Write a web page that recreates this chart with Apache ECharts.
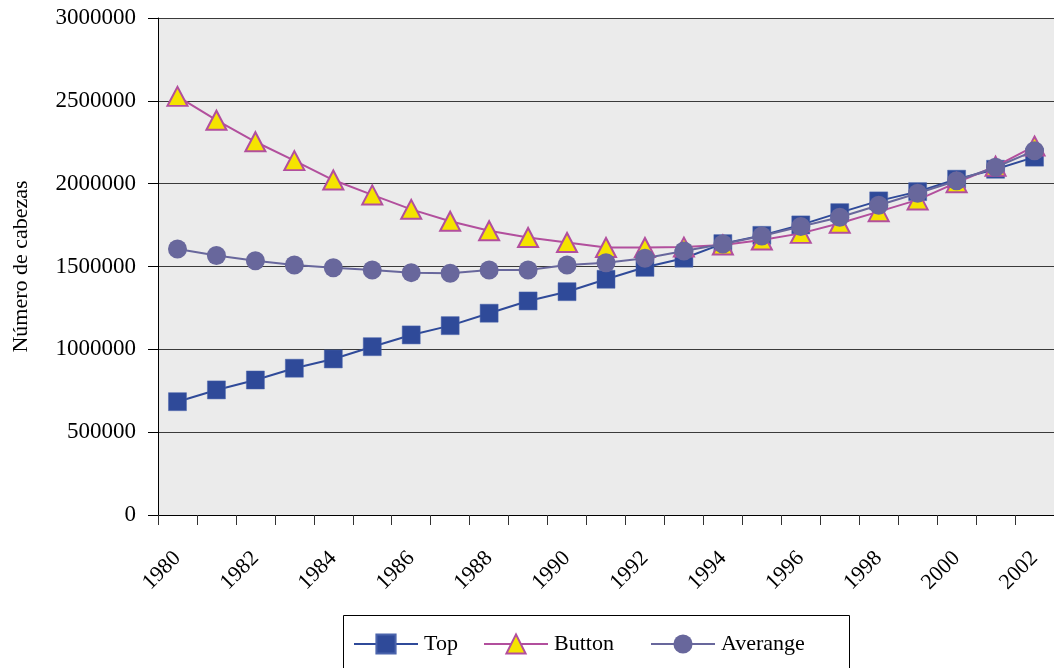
<!DOCTYPE html>
<html>
<head>
<meta charset="utf-8">
<script src="https://cdn.jsdelivr.net/npm/echarts@6/dist/echarts.min.js"></script>
<style>
  html, body { margin: 0; padding: 0; background: #ffffff; }
  #chart { width: 1054px; height: 668px; }
</style>
</head>
<body>
<div id="chart"></div>
<script>
// Years on the category axis
const years = ['1980', '1981', '1982', '1983', '1984', '1985', '1986', '1987', '1988', '1989', '1990',
  '1991', '1992', '1993', '1994', '1995', '1996', '1997', '1998', '1999', '2000', '2001', '2002'];

// Head counts per year
const topValues = [684000, 755000, 815000, 886000, 942000, 1016000, 1087000, 1143000, 1218000, 1292000, 1348000,
  1423000, 1495000, 1550000, 1638000, 1688000, 1751000, 1825000, 1896000, 1952000, 2027000, 2087000, 2160000];
const buttonValues = [2527000, 2383000, 2253000, 2139000, 2022000, 1932000, 1845000, 1773000, 1716000, 1675000, 1645000,
  1615000, 1615000, 1617000, 1630000, 1660000, 1700000, 1761000, 1831000, 1902000, 2006000, 2105000, 2227000];
const averageValues = [1606000, 1566000, 1535000, 1509000, 1493000, 1479000, 1463000, 1459000, 1479000, 1479000, 1509000,
  1523000, 1550000, 1594000, 1636000, 1684000, 1741000, 1797000, 1870000, 1942000, 2018000, 2099000, 2199000];

const seriesNames = ['Top', 'Button', 'Averange'];

const FONT = '"Liberation Serif", "DejaVu Serif", serif';
const TOP_COLOR = '#2f4a99';
const BUTTON_LINE = '#b24f9d';
const BUTTON_FILL = '#f5e300';
const AVG_COLOR = '#68679c';

const chart = echarts.init(document.getElementById('chart'), null, { renderer: 'canvas' });

function legendAt(name, left) {
  return {
    data: [name],
    left: left,
    top: 633,
    orient: 'horizontal',
    itemWidth: 64,
    itemHeight: 24,
    padding: 0,
    selectedMode: false,
    textStyle: { fontFamily: FONT, fontSize: 22, color: '#000', padding: [0, 0, 0, 1] }
  };
}

chart.setOption({
  animation: false,
  backgroundColor: '#ffffff',
  grid: {
    left: 158,
    top: 18,
    bottom: 153,
    right: -10,
    show: true,
    backgroundColor: '#ebebeb',
    borderWidth: 0
  },
  graphic: [{
    type: 'rect',
    shape: { x: 343.5, y: 615.5, width: 506, height: 70 },
    style: { fill: '#ffffff', stroke: '#000000', lineWidth: 1 },
    z: 0
  }],
  legend: [
    legendAt(seriesNames[0], 353),
    legendAt(seriesNames[1], 483),
    legendAt(seriesNames[2], 650)
  ],
  xAxis: {
    type: 'category',
    data: years,
    boundaryGap: true,
    axisLine: { show: true, lineStyle: { color: '#000', width: 1 } },
    axisTick: { show: true, interval: 0, length: 10, lineStyle: { color: '#333' } },
    axisLabel: {
      interval: 1,
      rotate: 45,
      margin: 40,
      fontFamily: FONT,
      fontSize: 22,
      color: '#000'
    },
    splitLine: { show: false }
  },
  yAxis: {
    type: 'value',
    min: 0,
    max: 3000000,
    interval: 500000,
    name: 'Número de cabezas',
    nameLocation: 'middle',
    nameGap: 126,
    nameRotate: 90,
    nameTextStyle: { fontFamily: FONT, fontSize: 22, color: '#000' },
    axisLine: { show: true, lineStyle: { color: '#000', width: 1 } },
    axisTick: { show: true, length: 10, lineStyle: { color: '#000' } },
    axisLabel: {
      margin: 22,
      fontFamily: FONT,
      fontSize: 23,
      color: '#000',
      formatter: function (v) { return String(v); }
    },
    splitLine: { show: true, lineStyle: { color: '#3a3a3a', width: 1 } }
  },
  series: [
    {
      name: seriesNames[0],
      type: 'line',
      data: topValues,
      symbol: 'rect',
      symbolSize: 18,
      showAllSymbol: true,
      lineStyle: { color: TOP_COLOR, width: 2 },
      itemStyle: { color: TOP_COLOR, borderColor: '#4b64ac', borderWidth: 0.5 },
      z: 3
    },
    {
      name: seriesNames[1],
      type: 'line',
      data: buttonValues,
      symbol: 'triangle',
      symbolSize: [20, 19],
      showAllSymbol: true,
      lineStyle: { color: BUTTON_LINE, width: 2 },
      itemStyle: { color: BUTTON_FILL, borderColor: BUTTON_LINE, borderWidth: 2 },
      z: 4
    },
    {
      name: seriesNames[2],
      type: 'line',
      data: averageValues,
      symbol: 'circle',
      symbolSize: 19,
      showAllSymbol: true,
      lineStyle: { color: AVG_COLOR, width: 2 },
      itemStyle: { color: AVG_COLOR },
      z: 5
    }
  ]
});
</script>
</body>
</html>
